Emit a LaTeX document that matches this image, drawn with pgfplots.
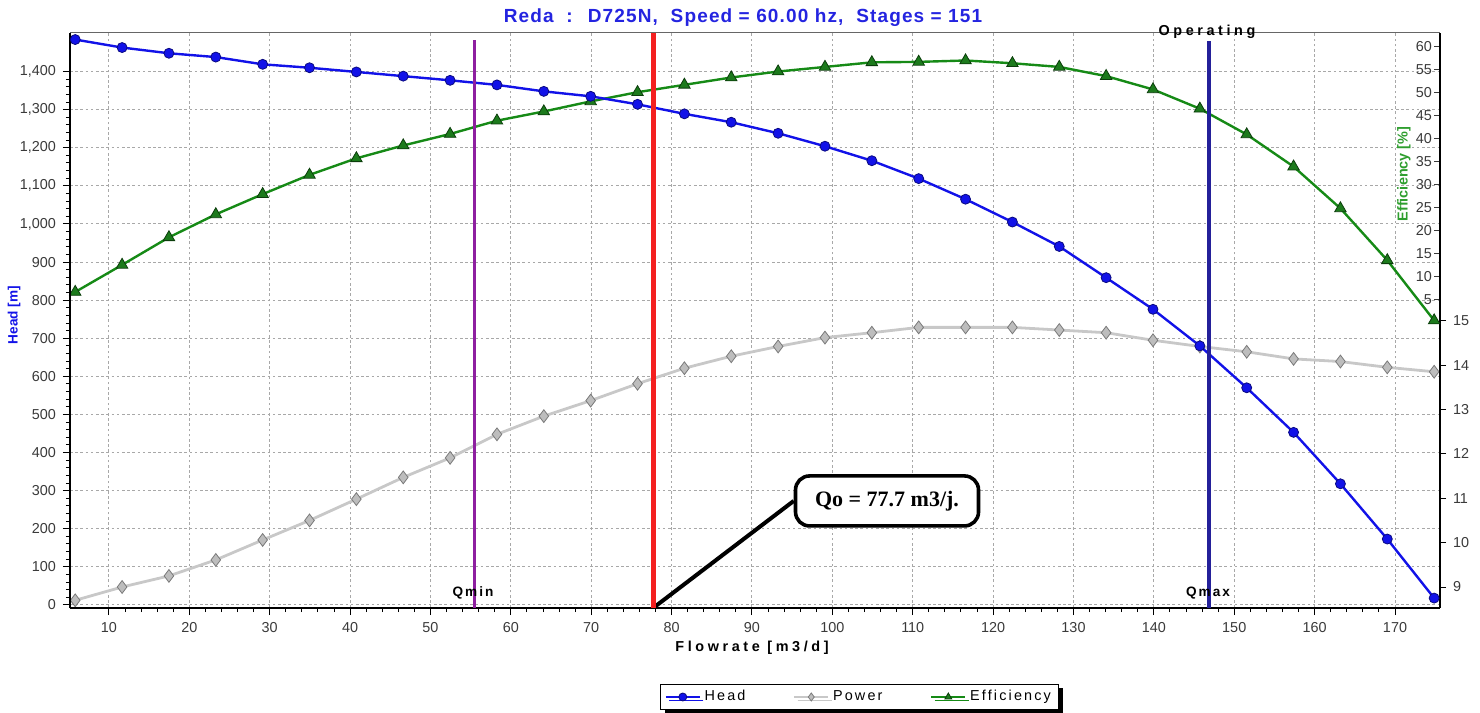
\documentclass[border=0pt]{standalone}
\usepackage{pgfplots}
\usepackage{pgfplotstable}
\pgfplotsset{compat=1.18}
\usepackage{fontspec}
\setmainfont{Liberation Sans}
\newfontfamily\spacedfont[LetterSpace=15]{Liberation Sans}
\newfontfamily\widefont[LetterSpace=25]{Liberation Sans}
\newfontfamily\titlefont[LetterSpace=6]{Liberation Sans}
\newfontfamily\calloutfont{Liberation Serif}
\usetikzlibrary{shadows}

\definecolor{headblue}{HTML}{1212E8}
\definecolor{headedge}{HTML}{0A0A80}
\definecolor{effgreen}{HTML}{168A16}
\definecolor{efffill}{HTML}{1C7A1C}
\definecolor{effedge}{HTML}{0B3D0B}
\definecolor{efflabel}{HTML}{2E9E2E}
\definecolor{powline}{HTML}{C8C8C8}
\definecolor{powfill}{HTML}{BDBDBD}
\definecolor{powedge}{HTML}{7A7A7A}
\definecolor{qminpurple}{HTML}{8E1FA0}
\definecolor{qmaxnavy}{HTML}{24209A}
\definecolor{qored}{HTML}{F42020}
\definecolor{ticktext}{HTML}{3A3A3A}
\definecolor{gridgrey}{HTML}{A8A8A8}
\definecolor{titleblue}{HTML}{2424E0}

% Pump performance curve: flowrate, head, shaft power, efficiency
\pgfplotstableread{
q       head  power  eff
5.80    1484  8.70   6.6
11.63   1463  9.00   12.5
17.46   1448  9.25   18.5
23.29   1438  9.61   23.5
29.12   1419  10.06  27.9
34.95   1410  10.50  32.1
40.78   1399  10.98  35.7
46.61   1388  11.47  38.5
52.44   1377  11.91  41.0
58.27   1365  12.44  43.9
64.10   1348  12.85  45.9
69.93   1335  13.20  48.1
75.76   1314  13.58  50.1
81.59   1289  13.93  51.7
87.42   1267  14.20  53.3
93.25   1238  14.42  54.6
99.08   1204  14.62  55.6
104.91  1166  14.73  56.6
110.74  1119  14.85  56.7
116.57  1065  14.85  57.0
122.40  1005  14.85  56.4
128.23  941   14.79  55.6
134.06  859   14.73  53.6
139.89  776   14.56  50.7
145.72  680   14.42  46.5
151.55  570   14.30  40.9
157.38  453   14.14  33.9
163.21  318   14.08  24.8
169.04  173   13.95  13.5
174.87  18    13.85  0.4
}\pumpcurve

\pgfplotsset{
  pumpframe/.style={
    scale only axis, width=685bp, height=287.65bp,
    at={(0,0)}, anchor=south west,
    xmin=5.15, xmax=175.6,
    ticklabel style={font=\fontsize{7.2bp}{8bp}\selectfont, text=ticktext},
    /pgf/number format/assume math mode=true,
  },
  headstyle/.style={headblue, line width=1.2bp, mark=*, mark size=2.5bp,
    mark options={fill=headblue, draw=headedge, line width=0.4bp, solid}},
  powerstyle/.style={powline, line width=1.4bp, mark=diamond*, mark size=3.2bp,
    mark options={fill=powfill, draw=powedge, line width=0.4bp, solid}},
  effstyle/.style={effgreen, line width=1.2bp, mark=triangle*, mark size=3.3bp,
    mark options={fill=efffill, draw=effedge, line width=0.4bp, solid}},
}

\begin{document}
\begin{tikzpicture}
\useasboundingbox (-35bp,-52.5bp) rectangle (705bp,304bp);

% background grid
\begin{axis}[pumpframe, ymin=-8, ymax=1502,
  xtick={10,20,...,170}, ytick={0,100,...,1400},
  xticklabels={}, yticklabels={}, major tick length=0pt,
  grid=major,
  major grid style={gridgrey, dash pattern=on 1.3bp off 1.3bp, line width=0.5bp},
  axis line style={draw=none}]
\end{axis}

% power scale (right, outside)
\begin{axis}[pumpframe, ymin=8.527, ymax=21.49,
  axis y line*=right, axis x line=none,
  axis line style={black, line width=1.1bp},
  ytick={9,10,...,15}, tick align=outside, major tick length=3bp,
  tick style={black, line width=0.5bp}]
\addplot[powerstyle] table[x=q, y=power]{\pumpcurve};
\end{axis}

% efficiency scale (right, inside)
\begin{axis}[pumpframe, ymin=-62.2, ymax=63.05,
  axis y line*=right, axis x line=none,
  axis line style={black, line width=1.1bp},
  ytick={5,10,...,60}, tick align=inside, major tick length=3bp,
  tick style={ticktext, line width=0.5bp},
  yticklabel style={anchor=east, xshift=-0.5bp}]
\addplot[effstyle] table[x=q, y=eff]{\pumpcurve};
\end{axis}

% head scale (left) with operating annotations
\begin{axis}[pumpframe, ymin=-8, ymax=1502,
  axis y line*=left, axis x line*=bottom,
  axis line style={black, line width=1.1bp},
  xtick={10,20,...,170}, ytick={0,100,...,1400},
  minor x tick num=4, minor y tick num=4,
  tick align=outside, major tick length=3.5bp, minor tick length=2bp,
  tick style={black, line width=0.5bp},
  legend columns=3,
  legend style={at={(0.5766,-0.1547)}, anchor=center,
    draw=black, line width=0.5bp, fill=white,
    drop shadow={shadow xshift=1.8bp, shadow yshift=-1.8bp, fill=black, opacity=1},
    font=\spacedfont\fontsize{7.2bp}{8bp}\selectfont,
    inner xsep=2bp, inner ysep=1bp,
    /tikz/every even column/.append style={column sep=22bp}},
  legend image post style={mark size=2bp, line width=0.8bp},
  ]
\addplot[headstyle] table[x=q, y=head]{\pumpcurve};
\addlegendentry{Head}
\addlegendimage{powerstyle}
\addlegendentry{Power}
\addlegendimage{effstyle}
\addlegendentry{Efficiency}

% top frame edge
\draw[black!60, line width=0.8bp] (axis cs:5.15,1502) -- (axis cs:175.6,1502);
% Qmin, operating point and Qmax
\draw[qminpurple, line width=1.5bp] (axis cs:55.5,-8) -- (axis cs:55.5,1482);
\draw[qmaxnavy, line width=2bp] (axis cs:146.9,-8) -- (axis cs:146.9,1480);
\node[draw=black, line width=1.8bp, fill=white, rounded corners=7bp,
  minimum width=91.5bp, minimum height=25bp, inner sep=0pt,
  font=\calloutfont\bfseries\fontsize{11bp}{12bp}\selectfont]
  (callout) at (axis cs:106.8,273) {Qo = 77.7 m3/j.};
\draw[black, line width=2bp] (axis cs:77.7,-8) -- (callout.west);
\draw[qored, line width=2.4bp] (axis cs:77.7,-8) -- (axis cs:77.7,1502);
\end{axis}

% titles and labels
\node[font=\titlefont\bfseries\fontsize{9.5bp}{11bp}\selectfont, text=titleblue]
  at (336.5bp,295bp) {Reda~ :~ D725N,~ Speed = 60.00 hz,~ Stages = 151};
\node[font=\bfseries\fontsize{6.8bp}{8bp}\selectfont, text=headblue, rotate=90]
  at (-28bp,146.5bp) {Head [m]};
\node[font=\bfseries\fontsize{7.2bp}{8bp}\selectfont, text=efflabel, rotate=90]
  at (667bp,217bp) {Efficiency [\%]};
\node[font=\widefont\bfseries\fontsize{7.2bp}{8bp}\selectfont]
  at (341bp,-20bp) {Flowrate [m3/d]};
\node[font=\spacedfont\bfseries\fontsize{6.8bp}{8bp}\selectfont]
  at (201.5bp,7.5bp) {Qmin};
\node[font=\spacedfont\bfseries\fontsize{6.8bp}{8bp}\selectfont]
  at (569bp,7.5bp) {Qmax};
\node[font=\widefont\bfseries\fontsize{7.2bp}{8bp}\selectfont]
  at (568.5bp,288bp) {Operating};
\end{tikzpicture}
\end{document}
